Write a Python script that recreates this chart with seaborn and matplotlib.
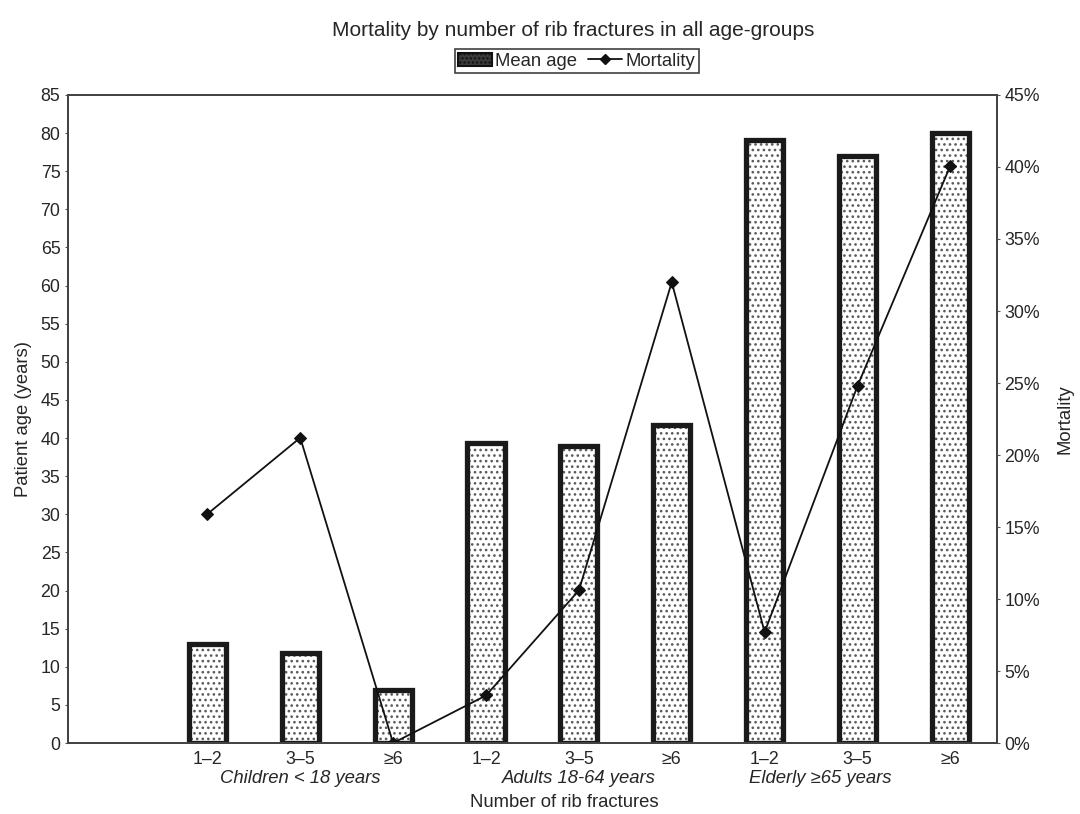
import numpy as np
import pandas as pd
import seaborn as sns
import matplotlib.pyplot as plt
from matplotlib.patches import Rectangle, Patch
from matplotlib.lines import Line2D
from matplotlib.ticker import PercentFormatter

groups = ['Children < 18 years', 'Adults 18-64 years', 'Elderly \u226565 years']
fractures = ['1\u20132', '3\u20135', '\u22656']
mean_age = [13.0, 11.8, 6.9, 39.4, 39.0, 41.7, 79.1, 77.0, 80.0]
mortality = [15.9, 21.2, 0.0, 3.3, 10.6, 32.0, 7.7, 24.8, 40.1]

keys = [f'{g}|{f}' for g in groups for f in fractures]
data = pd.DataFrame({'key': keys,
                     'group': np.repeat(groups, 3),
                     'fractures': fractures * 3,
                     'age': mean_age,
                     'mortality': mortality})
# first slot stays empty, like in the original figure
order = [''] + keys
data['pos'] = [order.index(k) for k in data['key']]

sns.set_style('white')
plt.rcParams['font.family'] = ['Liberation Sans', 'DejaVu Sans']
plt.rcParams['hatch.linewidth'] = 1.1

fig = plt.figure(figsize=(10.8, 8.14), dpi=100)
ax = fig.add_axes([0.063, 0.0872, 0.86, 0.7961])

sns.barplot(data=data, x='key', y='age', order=order, width=0.4,
            color='white', edgecolor='#5a5a5a', linewidth=0, ax=ax)
for p in list(ax.patches):
    p.set_hatch('...')
    ax.add_patch(Rectangle(p.get_xy(), p.get_width(), p.get_height(),
                           fill=False, edgecolor='#1a1a1a', linewidth=3.8, zorder=3))

ax.set_ylim(0, 85)
ax.set_yticks(range(0, 86, 5))
ax.set_xlim(-0.5, len(order) - 0.5)
ax.set_xticks(range(len(order)))
ax.set_xticklabels([''] + fractures * 3)
ax.set_ylabel('Patient age (years)', fontsize=13.3, labelpad=6)
ax.set_xlabel('Number of rib fractures', fontsize=13.3)
ax.xaxis.set_label_coords(0.534, -0.079)
ax.tick_params(axis='both', labelsize=12.8, length=2, color='#555')

for g, xpos in zip(groups, [2.0, 5.0, 7.6]):
    ax.text(xpos, -0.041, g, transform=ax.get_xaxis_transform(),
            ha='center', va='top', fontsize=13.3, style='italic')

ax2 = ax.twinx()
sns.lineplot(data=data, x='pos', y='mortality', color='#111', linewidth=1.3,
             marker='D', markersize=6, markeredgecolor='#111', ax=ax2)
ax2.set_ylim(0, 45)
ax2.set_yticks(range(0, 46, 5))
ax2.yaxis.set_major_formatter(PercentFormatter(decimals=0))
ax2.set_ylabel('Mortality', fontsize=13.3, labelpad=12)
ax2.set_xlabel('')
ax2.tick_params(axis='y', labelsize=12.8, length=2, color='#555')
ax.set_xlim(-0.5, len(order) - 0.5)

for a in (ax, ax2):
    for s in a.spines.values():
        s.set_color('#444')
        s.set_linewidth(1.4)

fig.text(0.531, 0.963, 'Mortality by number of rib fractures in all age-groups',
         ha='center', va='center', fontsize=15)

handles = [Patch(facecolor='#3a3a3a', edgecolor='#111', hatch='....', linewidth=1.5),
           Line2D([0], [0], color='#111', marker='D', markersize=5, linewidth=1.3)]
leg = fig.legend(handles, ['Mean age', 'Mortality'], loc='center',
                 bbox_to_anchor=(0.534, 0.925), ncol=2, fontsize=13.3,
                 frameon=True, fancybox=False, edgecolor='#111',
                 handlelength=1.8, handletextpad=0.2, columnspacing=0.6,
                 borderpad=0.2)
leg.get_frame().set_linewidth(1.2)

fig.savefig('out.png', dpi=100)
